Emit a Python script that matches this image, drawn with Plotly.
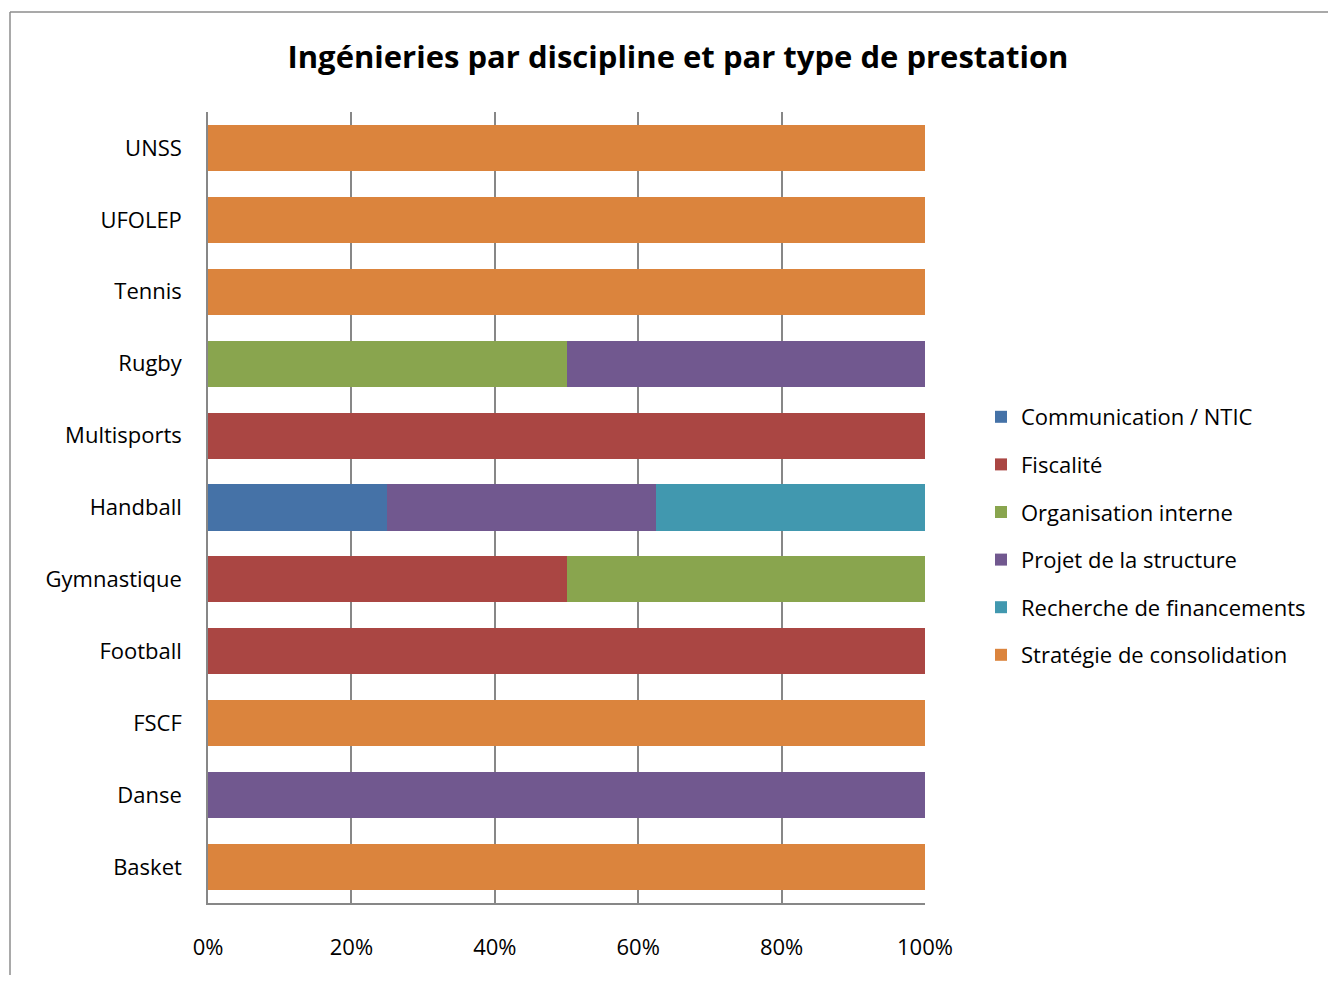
import plotly.graph_objects as go

categories = ["Basket", "Danse", "FSCF", "Football", "Gymnastique", "Handball",
              "Multisports", "Rugby", "Tennis", "UFOLEP", "UNSS"]

series_names = ["Communication / NTIC", "Fiscalité", "Organisation interne",
                "Projet de la structure", "Recherche de financements",
                "Stratégie de consolidation"]

communication = [0, 0, 0, 0, 0, 2, 0, 0, 0, 0, 0]
fiscalite     = [0, 0, 0, 1, 1, 0, 1, 0, 0, 0, 0]
organisation  = [0, 0, 0, 0, 1, 0, 0, 1, 0, 0, 0]
projet        = [0, 1, 0, 0, 0, 3, 0, 1, 0, 0, 0]
recherche     = [0, 0, 0, 0, 0, 3, 0, 0, 0, 0, 0]
strategie     = [1, 0, 1, 0, 0, 0, 0, 0, 1, 1, 1]

colors = ["#4572A7", "#AA4643", "#89A54E", "#71588F", "#4198AF", "#DB843D"]
series_values = [communication, fiscalite, organisation, projet, recherche, strategie]

tick_vals = [0, 0.2, 0.4, 0.6, 0.8, 1.0]
tick_text = ["0%", "20%", "40%", "60%", "80%", "100%"]

FONT = "Open Sans, Lato, sans-serif"

fig = go.Figure()
for name, vals, col in zip(series_names, series_values, colors):
    fig.add_trace(go.Bar(
        y=categories, x=vals, name=name, orientation="h",
        marker=dict(color=col, line=dict(width=0)),
        legendgroup=name,
    ))

# page has an 8px body margin: work in page coords, shift by OFF
OFF = 8
W, H = 1320, 967
L, R, T, B = 208 - OFF, 925 - OFF, 112 - OFF, 903 - OFF
pw, ph = R - L, B - T

fig.update_layout(
    width=W, height=H,
    barmode="stack", barnorm="fraction", bargap=0.36,
    margin=dict(l=L, r=W - R, t=T, b=H - B, pad=0),
    paper_bgcolor="white", plot_bgcolor="white",
    font=dict(family=FONT, size=22, color="#000000"),
    title=dict(text="<b>Ingénieries par discipline et par type de prestation</b>",
               x=(678 - OFF) / W, xref="container", xanchor="center",
               y=1 - (57 - OFF) / H, yref="container", yanchor="middle",
               font=dict(family=FONT, size=31, color="#000000")),
    legend=dict(x=(981 - OFF - L) / pw, xanchor="left",
                y=(B - (536 - OFF)) / ph, yanchor="middle",
                font=dict(family=FONT, size=22),
                traceorder="grouped", tracegroupgap=16,
                itemwidth=30, bgcolor="rgba(0,0,0,0)"),
    xaxis=dict(range=[0, 1], tickvals=tick_vals, ticktext=tick_text,
               showgrid=True, gridcolor="#878787", gridwidth=1.5,
               showline=True, linecolor="#878787", linewidth=1.5,
               ticks="", ticklabelstandoff=24, zeroline=False,
               mirror=False, fixedrange=True),
    yaxis=dict(showline=True, linecolor="#878787", linewidth=1.5,
               ticks="", ticklabelstandoff=20, showgrid=False),
    shapes=[
        dict(type="line", xref="paper", yref="paper",
             x0=(10 - OFF - L) / pw, x1=(W + 5 - L) / pw,
             y0=(B - (12 - OFF)) / ph, y1=(B - (12 - OFF)) / ph,
             line=dict(color="#8c8c8c", width=1.5)),
        dict(type="line", xref="paper", yref="paper",
             x0=(10 - OFF - L) / pw, x1=(10 - OFF - L) / pw,
             y0=(B - (12 - OFF)) / ph, y1=(B - H - 5) / ph,
             line=dict(color="#8c8c8c", width=1.5)),
    ],
)

fig.write_html("out.html")
